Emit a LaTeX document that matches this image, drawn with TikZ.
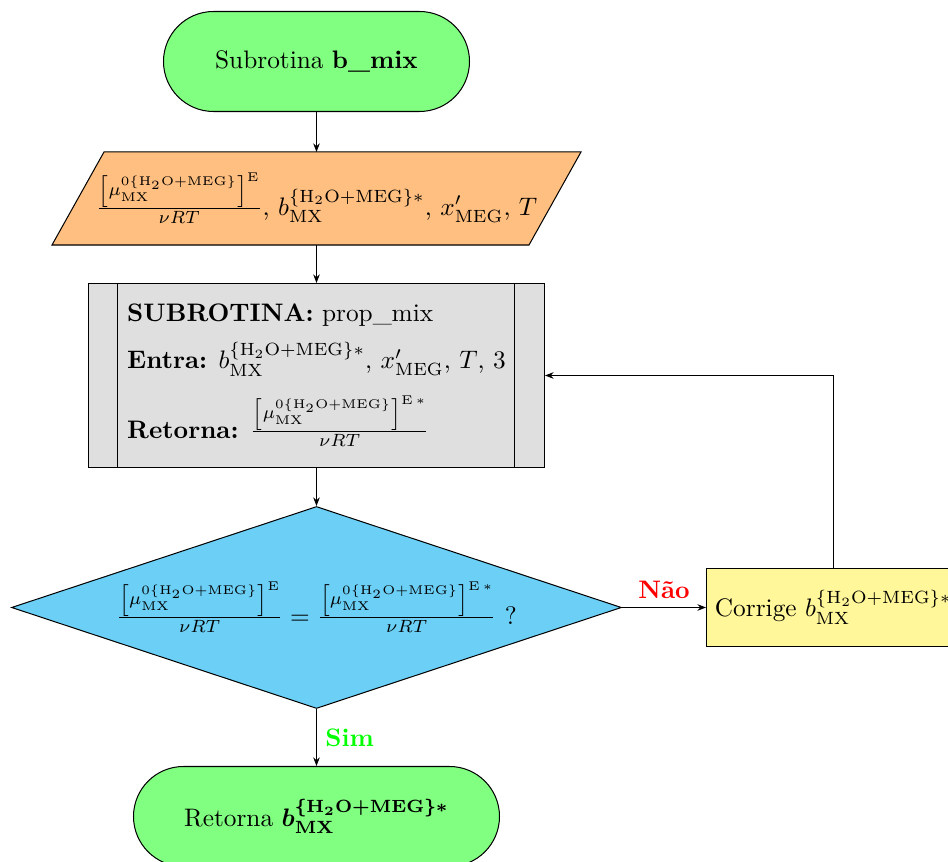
\documentclass[tikz,border=0pt]{standalone}
\usepackage{amsmath}
\usetikzlibrary{shapes.geometric,arrows.meta,calc,backgrounds}

% one drawing unit
\def\upx{0.395pt}

\definecolor{termgreen}{RGB}{128,255,128}
\definecolor{ioorange}{RGB}{255,191,128}
\definecolor{subgray}{RGB}{223,223,223}
\definecolor{decblue}{RGB}{107,207,246}
\definecolor{fixyellow}{RGB}{255,247,153}

\newcommand{\mixsup}{\{\mathrm{H_2O+MEG}\}}
\newcommand{\chemfrac}[1]{\frac{\left[\mu_{\mathrm{MX}}^{0\mixsup}\right]^{#1}}{\nu RT}}
\newcommand{\bmix}{b_{\mathrm{MX}}^{\mixsup*}}

\begin{document}
\begin{tikzpicture}[x=0.395pt, y=-0.395pt,
  base/.style={draw=black, line width=0.4pt},
  term/.style={base, fill=termgreen, rounded corners=19.75pt},
  subr/.style={base, fill=subgray, align=left, inner sep=0pt},
  decbox/.style={base, fill=decblue, diamond, aspect=3.02, inner sep=0pt},
  fixbox/.style={base, fill=fixyellow},
  flow/.style={-{Stealth[length=3.4pt,width=2.6pt]}, line width=0.4pt}]

\useasboundingbox (0,0) rectangle (948,862);

% start terminator
\node[term, minimum width=306*\upx, minimum height=100*\upx] (start) at (316.5,61.5)
  {Subrotina \textbf{b\_mix}};

% input data (slanted box drawn behind the node)
\node[minimum width=476*\upx, minimum height=92*\upx, inner sep=0pt] (in) at (316.5,198.5)
  {$\chemfrac{\mathrm{E}}$, $\bmix$, $x'_{\mathrm{MEG}}$, $T$};
\begin{scope}[on background layer]
  \draw[base, fill=ioorange] ($(in.south west)+(-26,0)$) -- ($(in.south east)+(-26,0)$)
    -- ($(in.north east)+(26,0)$) -- ($(in.north west)+(26,0)$) -- cycle;
\end{scope}

% predefined process
\node[subr, minimum width=456*\upx, minimum height=184*\upx] (sub) at (316.5,375.5)
  {\textbf{SUBROTINA:} prop\_mix\\[5.2pt]
   \textbf{Entra:} $\bmix$, $x'_{\mathrm{MEG}}$, $T$, 3\\[6.8pt]
   \textbf{Retorna:} $\chemfrac{\mathrm{E}\,*}$\rule[-3pt]{0pt}{1pt}};
\draw[line width=0.4pt] ($(sub.north west)+(30,0)$) -- ($(sub.south west)+(30,0)$);
\draw[line width=0.4pt] ($(sub.north east)+(-30.5,0)$) -- ($(sub.south east)+(-30.5,0)$);

% decision
\node[decbox, minimum width=610*\upx, minimum height=202*\upx] (dec) at (316.5,607.5)
  {$\chemfrac{\mathrm{E}} = \chemfrac{\mathrm{E}\,*}$ ?};

% correction step
\node[fixbox, anchor=west, minimum height=78*\upx] (fix) at (706,607.5)
  {Corrige $\bmix$};

% end terminator
\node[term, minimum width=366*\upx, minimum height=100*\upx] (stop) at (316.5,816.5)
  {Retorna {\boldmath$\bmix$}};

% connectors
\draw[flow] (start) -- (in);
\draw[flow] (in) -- (sub);
\draw[flow] (sub) -- (dec);
\draw[flow] (dec) -- node[above, text=red, font=\bfseries] {Não} (fix);
\draw[flow] (dec) -- node[right, text=green, font=\bfseries] {Sim} (stop);
\draw[flow] (fix.north) |- (sub.east);

\end{tikzpicture}
\end{document}
